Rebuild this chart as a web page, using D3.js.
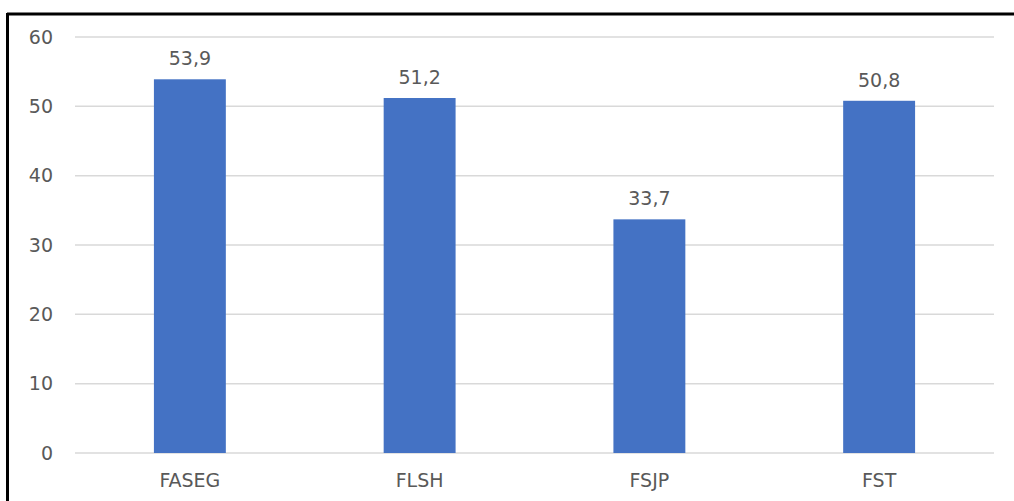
<!DOCTYPE html>
<html>
<head>
<meta charset="utf-8">
<script src="https://cdn.jsdelivr.net/npm/d3@7"></script>
<style>
  body { margin: 0; background: #fff; }
  text { font-family: "DejaVu Sans", Verdana, sans-serif; fill: #595959; }
</style>
</head>
<body>
<svg id="chart" width="1014" height="501"></svg>
<script>
var categories = ["FASEG", "FLSH", "FSJP", "FST"];
var values = [53.9, 51.2, 33.7, 50.8];
var tick_values = [0, 10, 20, 30, 40, 50, 60];

var svg = d3.select("#chart");
var plot_left = 75, plot_right = 994, plot_top = 37, plot_bottom = 453;

// frame (only top and left edges are visible in the picture)
svg.append("line").attr("x1", 7).attr("x2", 1014).attr("y1", 14).attr("y2", 14)
    .attr("stroke", "#000").attr("stroke-width", 3);
svg.append("line").attr("x1", 7.5).attr("x2", 7.5).attr("y1", 13).attr("y2", 501)
    .attr("stroke", "#000").attr("stroke-width", 3);

var x_scale = d3.scaleBand().domain(categories).range([plot_left, plot_right]).paddingInner(0.687).paddingOuter(0.3435);
var y_scale = d3.scaleLinear().domain([0, 60]).range([plot_bottom, plot_top]);

// gridlines
svg.selectAll("line.grid")
    .data(tick_values)
    .enter()
    .append("line")
    .attr("class", "grid")
    .attr("x1", plot_left).attr("x2", plot_right)
    .attr("y1", function(d){ return y_scale(d); })
    .attr("y2", function(d){ return y_scale(d); })
    .attr("stroke", "#d9d9d9").attr("stroke-width", 1.5);

// y tick labels
svg.selectAll("text.ytick")
    .data(tick_values)
    .enter()
    .append("text")
    .attr("class", "ytick")
    .attr("x", 53).attr("y", function(d){ return y_scale(d); })
    .attr("dy", "0.35em")
    .attr("text-anchor", "end")
    .style("font-size", "19px")
    .text(function(d){ return d; });

// bars
svg.selectAll("rect")
    .data(values)
    .enter()
    .append("rect")
    .attr("x", function(d, i){ return x_scale(categories[i]); })
    .attr("y", function(d){ return y_scale(d); })
    .attr("width", x_scale.bandwidth())
    .attr("height", function(d){ return y_scale(0) - y_scale(d); })
    .style("fill", "#4472c4");

// value labels
svg.selectAll("text.val")
    .data(values)
    .enter()
    .append("text")
    .attr("class", "val")
    .attr("x", function(d, i){ return x_scale(categories[i]) + x_scale.bandwidth() / 2; })
    .attr("y", function(d){ return y_scale(d) - 14; })
    .attr("text-anchor", "middle")
    .style("font-size", "19px")
    .text(function(d){ return d.toFixed(1).replace(".", ","); });

// category labels
svg.selectAll("text.cat")
    .data(categories)
    .enter()
    .append("text")
    .attr("class", "cat")
    .attr("x", function(d){ return x_scale(d) + x_scale.bandwidth() / 2; })
    .attr("y", 480)
    .attr("dy", "0.35em")
    .attr("text-anchor", "middle")
    .style("font-size", "19px")
    .text(function(d){ return d; });
</script>
</body>
</html>
